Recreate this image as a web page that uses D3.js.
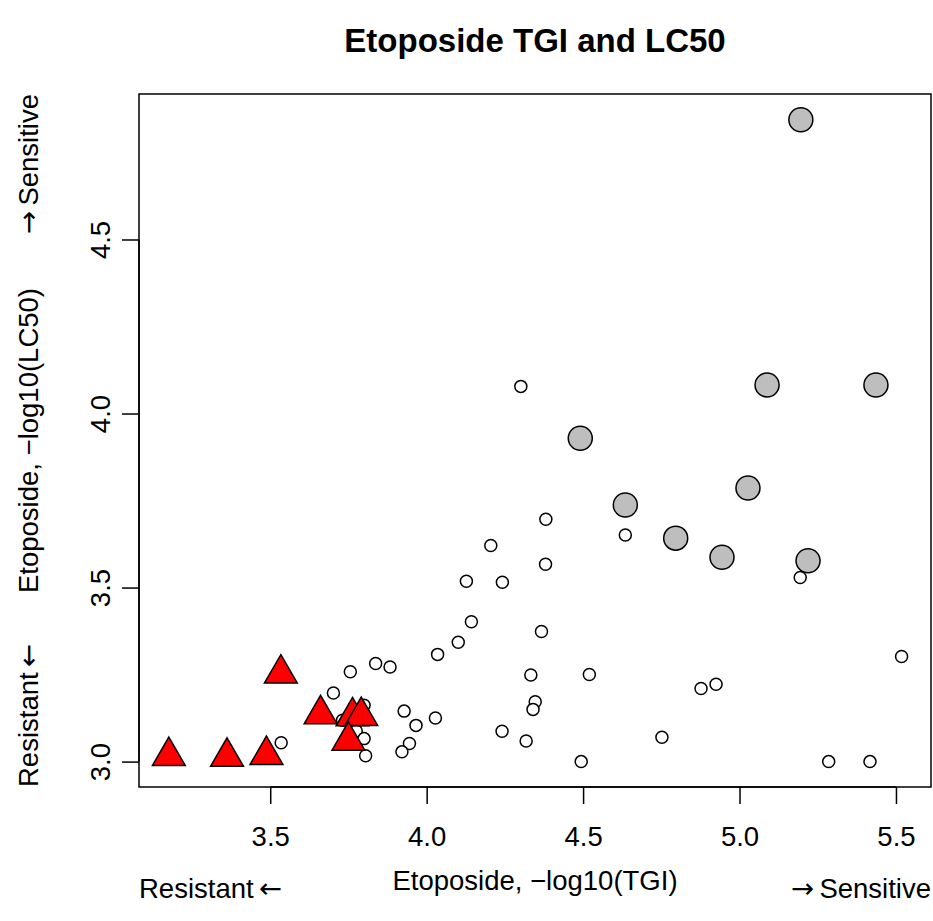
<!DOCTYPE html>
<html>
<head>
<meta charset="utf-8">
<script src="https://cdn.jsdelivr.net/npm/d3@7"></script>
<style>
  html, body { margin: 0; padding: 0; background: #fff; }
  svg { display: block; font-family: "Liberation Sans", Arial, Helvetica, sans-serif; }
</style>
</head>
<body>
<svg id="chart" width="933" height="921"></svg>
<script>
// ---- data ----
const title = "Etoposide TGI and LC50";
const xLabel = "Etoposide, \u2212log10(TGI)";
const yLabel = "Etoposide, \u2212log10(LC50)";
const lowWord = "Resistant", lowArrow = "\u2190";
const highWord = "Sensitive", highArrow = "\u2192";
const xTicks = [3.5, 4.0, 4.5, 5.0, 5.5];
const yTicks = [3.0, 3.5, 4.0, 4.5];

// sensitive lines (large gray circles): [TGI, LC50]
const sensitiveTGI  = [5.196, 5.088, 5.436, 4.491, 5.027, 4.635, 4.796, 5.219, 4.944];
const sensitiveLC50 = [4.844, 4.082, 4.082, 3.929, 3.786, 3.737, 3.642, 3.577, 3.587];

// other lines (small open circles)
const otherTGI  = [4.301, 4.381, 4.635, 4.205, 4.380, 4.127, 4.242, 5.194, 4.143, 4.367,
                   4.101, 4.035, 5.518, 3.837, 3.883, 3.756, 4.333, 4.520, 4.925, 4.877,
                   3.702, 4.347, 4.340, 3.800, 3.928, 4.028, 3.731, 3.966, 3.775, 4.241,
                   4.752, 3.800, 4.318, 3.535, 3.945, 3.921, 3.805, 4.494, 5.285, 5.417];
const otherLC50 = [4.078, 3.696, 3.651, 3.621, 3.567, 3.518, 3.515, 3.529, 3.402, 3.374,
                   3.343, 3.308, 3.302, 3.282, 3.272, 3.258, 3.249, 3.250, 3.222, 3.210,
                   3.197, 3.172, 3.150, 3.162, 3.145, 3.125, 3.119, 3.104, 3.088, 3.087,
                   3.070, 3.066, 3.059, 3.054, 3.052, 3.028, 3.017, 3.000, 3.000, 3.000];

// resistant lines (red triangles)
const resistantTGI  = [3.176, 3.362, 3.488, 3.534, 3.661, 3.763, 3.791, 3.750];
const resistantLC50 = [3.016, 3.014, 3.019, 3.253, 3.136, 3.130, 3.131, 3.060];

// ---- layout ----
const svg = d3.select("#chart");
const box = {left: 139, right: 931, top: 94, bottom: 787};
const fs = 27.5;
const arrowFont = "DejaVu Sans";

const x = d3.scaleLinear().domain([3.0806, 5.612]).range([box.left, box.right]);
const y = d3.scaleLinear().domain([2.927, 4.918]).range([box.bottom, box.top]);

// plot box
svg.append("rect")
  .attr("x", box.left).attr("y", box.top)
  .attr("width", box.right - box.left).attr("height", box.bottom - box.top)
  .attr("fill", "none").attr("stroke", "#000").attr("stroke-width", 1.5);

// axes
const xAxis = d3.axisBottom(x).tickValues(xTicks).tickSize(17).tickPadding(0)
  .tickFormat(d3.format(".1f"));
const gx = svg.append("g").attr("transform", `translate(0,${box.bottom})`).call(xAxis);
gx.select(".domain").attr("d", `M${x(xTicks[0])},0H${x(xTicks[xTicks.length-1])}`)
  .attr("stroke-width", 1.5);
gx.selectAll(".tick line").attr("stroke-width", 1.5);
gx.selectAll(".tick text").attr("font-size", fs).attr("font-family", "Liberation Sans")
  .attr("fill", "#000").attr("dy", null).attr("y", 59);

const yAxis = d3.axisLeft(y).tickValues(yTicks).tickSize(17).tickPadding(0)
  .tickFormat(d3.format(".1f"));
const gy = svg.append("g").attr("transform", `translate(${box.left},0)`).call(yAxis);
gy.select(".domain").attr("d", `M0,${y(yTicks[0])}V${y(yTicks[yTicks.length-1])}`)
  .attr("stroke-width", 1.5);
gy.selectAll(".tick line").attr("stroke-width", 1.5);
gy.selectAll(".tick text").attr("font-size", fs).attr("font-family", "Liberation Sans")
  .attr("fill", "#000").attr("x", null).attr("dy", null)
  .attr("text-anchor", "middle")
  .attr("transform", "translate(-29,0) rotate(-90)");

// points
const pts = svg.append("g");
pts.selectAll("circle.sens").data(d3.zip(sensitiveTGI, sensitiveLC50)).join("circle")
  .attr("class", "sens")
  .attr("cx", d => x(d[0])).attr("cy", d => y(d[1])).attr("r", 12)
  .attr("fill", "#BEBEBE").attr("stroke", "#000").attr("stroke-width", 1.5);
pts.selectAll("circle.other").data(d3.zip(otherTGI, otherLC50)).join("circle")
  .attr("class", "other")
  .attr("cx", d => x(d[0])).attr("cy", d => y(d[1])).attr("r", 6)
  .attr("fill", "#fff").attr("stroke", "#000").attr("stroke-width", 1.5);
const tr = 18.9, txc = 16.4, tyc = 9.45;
pts.selectAll("path.res").data(d3.zip(resistantTGI, resistantLC50)).join("path")
  .attr("class", "res")
  .attr("d", d => `M${x(d[0])},${y(d[1]) - tr}L${x(d[0]) + txc},${y(d[1]) + tyc}L${x(d[0]) - txc},${y(d[1]) + tyc}Z`)
  .attr("fill", "#FF0000").attr("stroke", "#000").attr("stroke-width", 1.5)
  .attr("stroke-linejoin", "miter");

// title
svg.append("text").attr("x", (box.left + box.right) / 2).attr("y", 52)
  .attr("text-anchor", "middle").attr("font-size", 33).attr("font-weight", "bold")
  .text(title);

// helpers for "Resistant ←" / "→ Sensitive"
function lowText(sel) {
  sel.append("tspan").text(lowWord + "\u2009");
  sel.append("tspan").attr("font-family", arrowFont).text(lowArrow);
  return sel;
}
function highText(sel) {
  sel.append("tspan").attr("font-family", arrowFont).text(highArrow);
  sel.append("tspan").text("\u2009" + highWord);
  return sel;
}

// x labels
svg.append("text").attr("x", (box.left + box.right) / 2).attr("y", 890)
  .attr("text-anchor", "middle").attr("font-size", fs).text(xLabel);
lowText(svg.append("text").attr("x", box.left).attr("y", 898)
  .attr("text-anchor", "start").attr("font-size", fs));
highText(svg.append("text").attr("x", box.right).attr("y", 898)
  .attr("text-anchor", "end").attr("font-size", fs));

// y labels (rotated)
const yl = (yy, anchor) => svg.append("text")
  .attr("transform", `translate(38,${yy}) rotate(-90)`)
  .attr("text-anchor", anchor).attr("font-size", fs);
yl((box.top + box.bottom) / 2, "middle").text(yLabel);
lowText(yl(box.bottom, "start"));
highText(yl(box.top, "end"));
</script>
</body>
</html>
